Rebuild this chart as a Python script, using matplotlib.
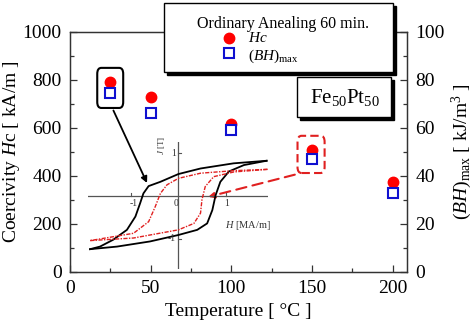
import matplotlib
matplotlib.use("Agg")
import matplotlib.pyplot as plt
from matplotlib.patches import FancyBboxPatch, Rectangle
from matplotlib.lines import Line2D

plt.rcParams['font.family'] = ['Liberation Serif', 'DejaVu Serif']
plt.rcParams['mathtext.fontset'] = 'custom'
plt.rcParams['mathtext.rm'] = 'Liberation Serif'
plt.rcParams['mathtext.it'] = 'Liberation Serif:italic'

# data
temp = [25, 50, 100, 150, 200]
hc = [793, 728, 618, 509, 373]          # kA/m
bhmax = [74.4, 66.4, 59.2, 47.2, 33.0]  # kJ/m^3

# inset hysteresis loops (H in MA/m, J in T)
blk_up_h = [1.87, 1.17, 0.47, 0.0, -0.38, -0.63, -0.74, -0.81, -0.91, -1.09, -1.38, -1.66, -1.87]
blk_up_j = [0.82, 0.76, 0.64, 0.51, 0.33, 0.23, 0.06, -0.17, -0.48, -0.79, -1.02, -1.18, -1.24]
blk_dn_h = [-1.87, -1.30, -0.60, 0.0, 0.40, 0.61, 0.72, 0.79, 0.89, 1.07, 1.39, 1.87]
blk_dn_j = [-1.24, -1.18, -1.06, -0.91, -0.79, -0.64, -0.33, 0.02, 0.33, 0.57, 0.72, 0.82]
red_up_h = [1.89, 1.18, 0.47, 0.0, -0.24, -0.38, -0.49, -0.63, -0.95, -1.38, -1.87]
red_up_j = [0.62, 0.59, 0.53, 0.41, 0.26, 0.06, -0.25, -0.60, -0.87, -0.95, -1.04]
red_dn_h = [-1.87, -0.95, 0.0, 0.33, 0.47, 0.50, 0.57, 0.75, 1.18, 1.89]
red_dn_j = [-1.04, -0.98, -0.79, -0.64, -0.40, -0.09, 0.22, 0.45, 0.56, 0.62]

fig = plt.figure(figsize=(4.74, 3.32), dpi=100)
ax = fig.add_axes([0.148, 0.181, 0.711, 0.723])
ax2 = ax.twinx()

ax.set_xlim(0, 209)
ax.set_ylim(0, 1000)
ax2.set_ylim(0, 100)
ax.set_xticks([0, 50, 100, 150, 200])
ax.set_xticks([25, 75, 125, 175], minor=True)
ax.set_yticks(range(0, 1001, 200))
ax.set_yticks(range(100, 1000, 200), minor=True)
ax2.set_yticks(range(0, 101, 20))
ax2.set_yticks(range(10, 100, 20), minor=True)
for a in (ax, ax2):
    a.tick_params(which='both', direction='in', labelsize=14, width=0.9, color='#333333')
    a.tick_params(which='major', length=5)
    a.tick_params(which='minor', length=3)
    for s in a.spines.values():
        s.set_color('#333333')
        s.set_linewidth(0.9)
ax.tick_params(axis='y', pad=6)
ax.tick_params(axis='x', pad=6)
ax2.tick_params(axis='y', pad=6)

ax.set_xlabel('Temperature [ °C ]', fontsize=14, labelpad=4)
ax.set_ylabel('Coercivity $H$c [ kA/m ]', fontsize=14)
ax.yaxis.set_label_coords(-0.143, 0.5)
ax2.set_ylabel(r'$(BH)_{\rm max}$ [ kJ/m$^3$ ]', fontsize=14)
ax2.yaxis.set_label_coords(1.126, 0.5)

ax.plot(temp, hc, 'o', color='red', markersize=7.5, zorder=5)
ax2.plot(temp, bhmax, 's', mfc='white', mec='#1010d0', mew=1.5, markersize=7.5, zorder=6)

# highlight boxes and arrows
ax.add_patch(FancyBboxPatch((16.8, 683), 16.1, 167, boxstyle='round,pad=0,rounding_size=2.5',
                            fill=False, ec='black', lw=1.5, mutation_aspect=10, zorder=4))
ax.add_patch(FancyBboxPatch((141, 412), 16.8, 155, boxstyle='round,pad=0,rounding_size=2.5',
                            fill=False, ec='#e02020', lw=1.5, ls=(0, (4, 2)), mutation_aspect=10, zorder=4))
ax.annotate('', xy=(48.4, 360), xytext=(26.1, 683),
            arrowprops=dict(arrowstyle='-|>', color='black', lw=1.3, mutation_scale=9))
ax.annotate('', xy=(84, 310), xytext=(141, 408),
            arrowprops=dict(arrowstyle='-|>', color='#e02020', lw=1.5, ls=(0, (5, 3)), mutation_scale=9))

# inset hysteresis loop
axin = ax.inset_axes([11.2, 12.5, 111.8, 529.2], transform=ax.transData)
axin.set_xlim(-1.91, 1.91)
axin.set_ylim(-1.70, 1.26)
axin.axis('off')
axin.patch.set_alpha(0)
axin.axhline(0, color='#555555', lw=0.9)
axin.axvline(0, color='#555555', lw=0.9)
for hv in (-1, 1):
    axin.plot([hv, hv], [0, 0.06], color='#555555', lw=0.8)
    axin.plot([0, 0.06], [hv, hv], color='#555555', lw=0.8)
axin.plot(blk_up_h, blk_up_j, color='black', lw=1.3)
axin.plot(blk_dn_h, blk_dn_j, color='black', lw=1.3)
axin.plot(red_up_h, red_up_j, color='#e02020', lw=1.0, ls=(0, (3, 1, 1, 1)))
axin.plot(red_dn_h, red_dn_j, color='#e02020', lw=1.0, ls=(0, (3, 1, 1, 1)))
for hv, lab in ((-0.95, '-1'), (-0.05, '0'), (1.02, '1')):
    axin.text(hv, -0.08, lab, fontsize=7, ha='center', va='top', color='#333333')
axin.text(-0.05, 0.98, '1', fontsize=7, ha='right', va='center', color='#333333')
axin.text(-0.05, -1.0, '-1', fontsize=7, ha='right', va='center', color='#333333')
axin.text(-0.36, 1.18, '$J$ [T]', fontsize=6.5, ha='center', va='center', rotation=90, color='#333333')
axin.text(1.48, -0.68, '$H$ [MA/m]', fontsize=7.5, ha='center', va='center', color='#333333')

# legend box (figure pixels -> fraction)
W, H = 474.0, 332.0
def fbox(x0, y0, x1, y1):
    return (x0 / W, 1 - y1 / H, (x1 - x0) / W, (y1 - y0) / H)

for (x0, y0, x1, y1) in ((164, 3, 393, 72), (297, 77, 391, 117)):
    bx, by, bw, bh = fbox(x0, y0, x1, y1)
    fig.patches.append(Rectangle((bx + 3 / W, by - 3 / H), bw, bh, transform=fig.transFigure,
                                 fc='black', ec='black', zorder=10))
    fig.patches.append(Rectangle((bx, by), bw, bh, transform=fig.transFigure,
                                 fc='white', ec='black', lw=1.0, zorder=11))

fig.text(283 / W, 1 - 24 / H, 'Ordinary Anealing 60 min.', fontsize=11.5, ha='center', va='center', zorder=12)
fig.lines.append(Line2D([229 / W], [1 - 38 / H], marker='o', color='red', markersize=7.5,
                        transform=fig.transFigure, zorder=12))
fig.lines.append(Line2D([229 / W], [1 - 53 / H], marker='s', mfc='white', mec='#1010d0', mew=1.5,
                        markersize=7, transform=fig.transFigure, zorder=12))
fig.text(248 / W, 1 - 38 / H, '$Hc$', fontsize=11, ha='left', va='center', zorder=12)
fig.text(248 / W, 1 - 56 / H, r'$(BH)_{\rm max}$', fontsize=11, ha='left', va='center', zorder=12)
fig.text(345 / W, 1 - 98 / H, r'Fe$_{50}$Pt$_{50}$', fontsize=15, ha='center', va='center', zorder=12)

fig.savefig('out.png', dpi=100)
